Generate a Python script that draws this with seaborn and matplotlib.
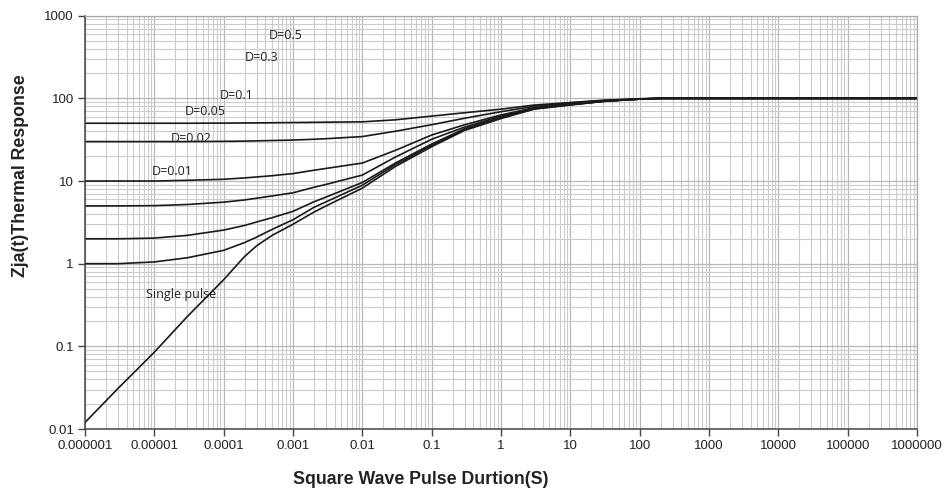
import numpy as np
import pandas as pd
import matplotlib
matplotlib.use("Agg")
import matplotlib.pyplot as plt
import matplotlib.ticker as mticker
import seaborn as sns

# ---- data ----
pulse_width = [1e-6, 3e-6, 1e-5, 3e-5, 1e-4, 2e-4, 3e-4, 5e-4, 1e-3, 2e-3, 3e-3,
               1e-2, 3e-2, 1e-1, 3e-1, 1, 3, 10, 30, 100, 200, 1e3, 1e4, 1e5, 1e6]

single_pulse = [0.012, 0.031, 0.085, 0.23, 0.64, 1.22, 1.65, 2.2, 3.0, 4.2, 5.0,
                8.2, 15.0, 26, 41, 57, 74, 83, 92, 98, 100, 100, 100, 100, 100]
d_001 = [1.0, 1.0, 1.05, 1.18, 1.45, 1.8, 2.1, 2.6, 3.4, 4.8, 5.6,
         8.9, 15.8, 27, 42, 58, 75, 84, 92, 98, 100, 100, 100, 100, 100]
d_002 = [2.0, 2.0, 2.04, 2.2, 2.55, 2.9, 3.2, 3.6, 4.3, 5.6, 6.4,
         9.6, 16.5, 28, 43, 59, 75, 84, 92, 98, 100, 100, 100, 100, 100]
d_005 = [5.0, 5.0, 5.04, 5.2, 5.55, 5.9, 6.2, 6.6, 7.2, 8.4, 9.1,
         11.8, 19.5, 32, 45, 61, 76, 85, 93, 98, 100, 100, 100, 100, 100]
d_01 = [10, 10, 10, 10.2, 10.5, 10.9, 11.2, 11.6, 12.3, 13.5, 14.2,
        16.5, 23.5, 36, 48, 63, 77, 86, 93, 98, 100, 100, 100, 100, 100]
d_03 = [30, 30, 30, 30, 30.2, 30.4, 30.6, 30.9, 31.3, 32.0, 32.5,
        34.5, 40, 48, 57.5, 69, 80, 88, 94, 98.5, 100, 100, 100, 100, 100]
d_05 = [50, 50, 50, 50, 50.2, 50.4, 50.5, 50.7, 51, 51.3, 51.5,
        52, 55, 61, 67, 74, 83, 89, 95, 99, 100, 100, 100, 100, 100]

series_names = ["Single pulse", "D=0.01", "D=0.02", "D=0.05", "D=0.1", "D=0.3", "D=0.5"]
series_values = [single_pulse, d_001, d_002, d_005, d_01, d_03, d_05]

# curve label text and anchor (data coords, left edge)
label_texts = ["Single pulse", "D=0.01", "D=0.02", "D=0.05", "D=0.1", "D=0.3", "D=0.5"]
label_x = [7.6e-6, 9.3e-6, 1.7e-5, 2.76e-5, 8.9e-5, 2.04e-4, 4.4e-4]
label_y = [0.42, 12.9, 32.3, 68.6, 109, 308, 569]

x_ticks = [1e-6, 1e-5, 1e-4, 1e-3, 1e-2, 1e-1, 1, 10, 100, 1e3, 1e4, 1e5, 1e6]
x_tick_labels = ["0.000001", "0.00001", "0.0001", "0.001", "0.01", "0.1", "1",
                 "10", "100", "1000", "10000", "100000", "1000000"]
y_ticks = [0.01, 0.1, 1, 10, 100, 1000]
y_tick_labels = ["0.01", "0.1", "1", "10", "100", "1000"]

# ---- build long-form table ----
rows = []
for name, vals in zip(series_names, series_values):
    for xv, yv in zip(pulse_width, vals):
        rows.append({"t": xv, "z": yv, "series": name})
df = pd.DataFrame(rows)

sns.set_style("white")
plt.rcParams["font.family"] = ["Liberation Sans", "DejaVu Sans"]

fig = plt.figure(figsize=(9.51, 4.93), dpi=100)
ax = fig.add_axes([85 / 951, 1 - 429 / 493, (917 - 85) / 951, (429 - 15.7) / 493])

ax.set_xscale("log")
ax.set_yscale("log")

sns.lineplot(data=df, x="t", y="z", hue="series", hue_order=series_names,
             palette=["#1a1a1a"] * len(series_names), linewidth=1.2,
             legend=False, ax=ax, estimator=None, sort=True)

ax.set_xlim(1e-6, 1e6)
ax.set_ylim(0.01, 1000)

ax.xaxis.set_major_locator(mticker.FixedLocator(x_ticks))
ax.xaxis.set_major_formatter(mticker.FixedFormatter(x_tick_labels))
ax.yaxis.set_major_locator(mticker.FixedLocator(y_ticks))
ax.yaxis.set_major_formatter(mticker.FixedFormatter(y_tick_labels))
ax.xaxis.set_minor_locator(mticker.LogLocator(base=10, subs=np.arange(2, 10), numticks=100))
ax.yaxis.set_minor_locator(mticker.LogLocator(base=10, subs=np.arange(2, 10), numticks=100))
ax.xaxis.set_minor_formatter(mticker.NullFormatter())
ax.yaxis.set_minor_formatter(mticker.NullFormatter())

ax.grid(True, which="major", color="#b8b8b8", linewidth=0.9)
ax.grid(True, which="minor", color="#cccccc", linewidth=0.8)
ax.set_axisbelow(True)

ax.tick_params(axis="both", which="major", direction="out", length=5, width=1,
               color="#444444", labelsize=9.5, labelcolor="#222222",
               bottom=True, left=True, pad=3)
ax.tick_params(axis="both", which="minor", length=0)

for side in ["left", "bottom"]:
    ax.spines[side].set_color("#444444")
    ax.spines[side].set_linewidth(1.1)
for side in ["top", "right"]:
    ax.spines[side].set_color("#aaaaaa")
    ax.spines[side].set_linewidth(0.9)

ax.set_xlabel("")
ax.set_ylabel("")

for txt, lx, ly in zip(label_texts, label_x, label_y):
    ax.text(lx, ly, txt, fontsize=9, color="#222222", ha="left", va="center",
            family=["Open Sans", "DejaVu Sans"])

fig.text(421 / 951, 1 - 480 / 493, "Square Wave Pulse Durtion(S)", ha="center",
         va="center", fontsize=12.8, fontweight="bold", color="#222222")
fig.text(21 / 951, 1 - 176 / 493, "Zja(t)Thermal Response", ha="center",
         va="center", rotation=90, fontsize=12.8, fontweight="bold", color="#222222")

fig.savefig("out.png", dpi=100)
